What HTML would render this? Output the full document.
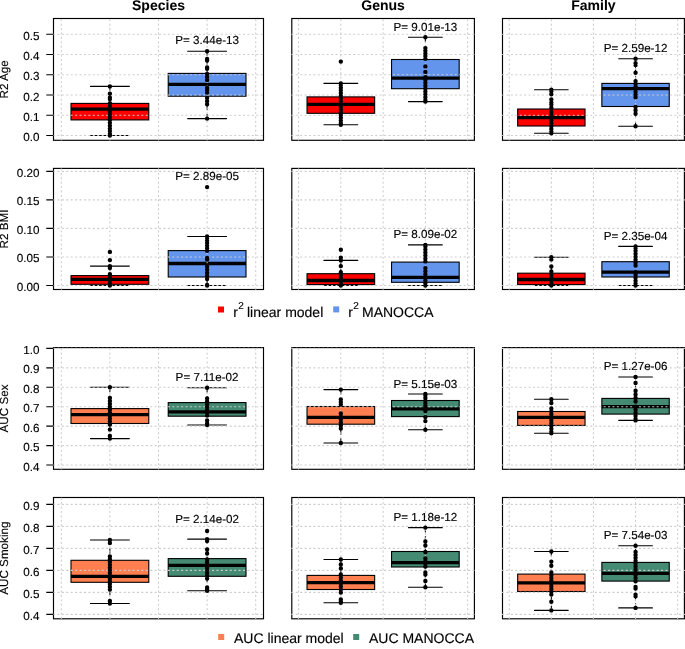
<!DOCTYPE html>
<html><head><meta charset="utf-8"><title>MANOCCA boxplots</title>
<style>
html,body{margin:0;padding:0;background:#fff;}
body{width:685px;height:649px;overflow:hidden;}
svg{display:block;font-family:"Liberation Sans", sans-serif;will-change:transform;text-rendering:geometricPrecision;}
text{fill:#000;stroke:#000;stroke-width:0.15px;}
</style></head>
<body>
<svg width="685" height="649" viewBox="0 0 685 649">
<path d="M109.89 86.4V103.4M109.89 135.5V119.9" stroke="#000" stroke-width="1.05" stroke-dasharray="4.417 4.417" stroke-linecap="round" fill="none"/>
<path d="M90.44 86.4H129.33M90.44 135.5H129.33" stroke="#000" stroke-width="1.1" stroke-linecap="round" fill="none"/>
<rect x="71" y="103.4" width="77.78" height="16.5" fill="#FF0000" stroke="#000" stroke-width="1.1"/>
<path d="M71 109.1H148.78" stroke="#000" stroke-width="3.3" fill="none"/>
<path d="M207.11 51.2V73.4M207.11 118.6V96.2" stroke="#000" stroke-width="1.05" stroke-dasharray="4.417 4.417" stroke-linecap="round" fill="none"/>
<path d="M187.67 51.2H226.56M187.67 118.6H226.56" stroke="#000" stroke-width="1.1" stroke-linecap="round" fill="none"/>
<rect x="168.22" y="73.4" width="77.78" height="22.8" fill="#6495ED" stroke="#000" stroke-width="1.1"/>
<path d="M168.22 84.3H246" stroke="#000" stroke-width="3.3" fill="none"/>
<rect x="53.5" y="18.5" width="210" height="121.8" fill="none" stroke="#000" stroke-width="1.15"/>
<path d="M61.28 140.3V18.5M109.89 140.3V18.5M158.5 140.3V18.5M207.11 140.3V18.5M255.72 140.3V18.5" stroke="#CCCCCC" stroke-width="1.1" stroke-dasharray="1.104 3.313" stroke-dashoffset="-0.3" stroke-linecap="round" fill="none"/>
<path d="M53.5 135.55H263.5M53.5 115.3H263.5M53.5 95.05H263.5M53.5 74.8H263.5M53.5 54.55H263.5M53.5 34.3H263.5" stroke="#CCCCCC" stroke-width="1.1" stroke-dasharray="1.104 3.313" stroke-linecap="round" fill="none"/>
<path d="M107.69 86.4a2.2 2.2 0 1 0 4.4 0a2.2 2.2 0 1 0 -4.4 0zM107.69 135.5a2.2 2.2 0 1 0 4.4 0a2.2 2.2 0 1 0 -4.4 0zM107.69 86.4a2.2 2.2 0 1 0 4.4 0a2.2 2.2 0 1 0 -4.4 0zM107.69 93.6a2.2 2.2 0 1 0 4.4 0a2.2 2.2 0 1 0 -4.4 0zM107.69 97.8a2.2 2.2 0 1 0 4.4 0a2.2 2.2 0 1 0 -4.4 0zM107.69 99a2.2 2.2 0 1 0 4.4 0a2.2 2.2 0 1 0 -4.4 0zM107.69 103.3a2.2 2.2 0 1 0 4.4 0a2.2 2.2 0 1 0 -4.4 0zM107.69 106.09a2.2 2.2 0 1 0 4.4 0a2.2 2.2 0 1 0 -4.4 0zM107.69 108.88a2.2 2.2 0 1 0 4.4 0a2.2 2.2 0 1 0 -4.4 0zM107.69 111.67a2.2 2.2 0 1 0 4.4 0a2.2 2.2 0 1 0 -4.4 0zM107.69 114.46a2.2 2.2 0 1 0 4.4 0a2.2 2.2 0 1 0 -4.4 0zM107.69 117.25a2.2 2.2 0 1 0 4.4 0a2.2 2.2 0 1 0 -4.4 0zM107.69 120.05a2.2 2.2 0 1 0 4.4 0a2.2 2.2 0 1 0 -4.4 0zM107.69 122.84a2.2 2.2 0 1 0 4.4 0a2.2 2.2 0 1 0 -4.4 0zM107.69 125.63a2.2 2.2 0 1 0 4.4 0a2.2 2.2 0 1 0 -4.4 0zM107.69 128.42a2.2 2.2 0 1 0 4.4 0a2.2 2.2 0 1 0 -4.4 0zM107.69 131.21a2.2 2.2 0 1 0 4.4 0a2.2 2.2 0 1 0 -4.4 0zM107.69 134a2.2 2.2 0 1 0 4.4 0a2.2 2.2 0 1 0 -4.4 0z" fill="#000"/>
<path d="M204.91 51.2a2.2 2.2 0 1 0 4.4 0a2.2 2.2 0 1 0 -4.4 0zM204.91 118.6a2.2 2.2 0 1 0 4.4 0a2.2 2.2 0 1 0 -4.4 0zM204.91 51.2a2.2 2.2 0 1 0 4.4 0a2.2 2.2 0 1 0 -4.4 0zM204.91 59a2.2 2.2 0 1 0 4.4 0a2.2 2.2 0 1 0 -4.4 0zM204.91 60.5a2.2 2.2 0 1 0 4.4 0a2.2 2.2 0 1 0 -4.4 0zM204.91 67.5a2.2 2.2 0 1 0 4.4 0a2.2 2.2 0 1 0 -4.4 0zM204.91 68.8a2.2 2.2 0 1 0 4.4 0a2.2 2.2 0 1 0 -4.4 0zM204.91 74a2.2 2.2 0 1 0 4.4 0a2.2 2.2 0 1 0 -4.4 0zM204.91 77a2.2 2.2 0 1 0 4.4 0a2.2 2.2 0 1 0 -4.4 0zM204.91 80a2.2 2.2 0 1 0 4.4 0a2.2 2.2 0 1 0 -4.4 0zM204.91 88a2.2 2.2 0 1 0 4.4 0a2.2 2.2 0 1 0 -4.4 0zM204.91 90.25a2.2 2.2 0 1 0 4.4 0a2.2 2.2 0 1 0 -4.4 0zM204.91 92.5a2.2 2.2 0 1 0 4.4 0a2.2 2.2 0 1 0 -4.4 0zM204.91 98a2.2 2.2 0 1 0 4.4 0a2.2 2.2 0 1 0 -4.4 0zM204.91 101.15a2.2 2.2 0 1 0 4.4 0a2.2 2.2 0 1 0 -4.4 0zM204.91 104.3a2.2 2.2 0 1 0 4.4 0a2.2 2.2 0 1 0 -4.4 0zM204.91 118.6a2.2 2.2 0 1 0 4.4 0a2.2 2.2 0 1 0 -4.4 0z" fill="#000"/>
<text x="207.11" y="44.1" text-anchor="middle" font-size="11.67">P= 3.44e-13</text>
<path d="M340.83 83.4V96.9M340.83 124.7V113.3" stroke="#000" stroke-width="1.05" stroke-dasharray="4.417 4.417" stroke-linecap="round" fill="none"/>
<path d="M323.92 83.4H357.74M323.92 124.7H357.74" stroke="#000" stroke-width="1.1" stroke-linecap="round" fill="none"/>
<rect x="307.02" y="96.9" width="67.63" height="16.4" fill="#FF0000" stroke="#000" stroke-width="1.1"/>
<path d="M307.02 104.4H374.65" stroke="#000" stroke-width="3.3" fill="none"/>
<path d="M425.37 37.3V59.5M425.37 101.6V88.7" stroke="#000" stroke-width="1.05" stroke-dasharray="4.417 4.417" stroke-linecap="round" fill="none"/>
<path d="M408.46 37.3H442.28M408.46 101.6H442.28" stroke="#000" stroke-width="1.1" stroke-linecap="round" fill="none"/>
<rect x="391.55" y="59.5" width="67.63" height="29.2" fill="#6495ED" stroke="#000" stroke-width="1.1"/>
<path d="M391.55 78.2H459.18" stroke="#000" stroke-width="3.3" fill="none"/>
<rect x="291.8" y="18.5" width="182.6" height="121.8" fill="none" stroke="#000" stroke-width="1.15"/>
<path d="M298.56 140.3V18.5M340.83 140.3V18.5M383.1 140.3V18.5M425.37 140.3V18.5M467.64 140.3V18.5" stroke="#CCCCCC" stroke-width="1.1" stroke-dasharray="1.104 3.313" stroke-dashoffset="-0.3" stroke-linecap="round" fill="none"/>
<path d="M291.8 135.55H474.4M291.8 115.3H474.4M291.8 95.05H474.4M291.8 74.8H474.4M291.8 54.55H474.4M291.8 34.3H474.4" stroke="#CCCCCC" stroke-width="1.1" stroke-dasharray="1.104 3.313" stroke-linecap="round" fill="none"/>
<path d="M338.63 83.4a2.2 2.2 0 1 0 4.4 0a2.2 2.2 0 1 0 -4.4 0zM338.63 124.7a2.2 2.2 0 1 0 4.4 0a2.2 2.2 0 1 0 -4.4 0zM338.63 61.6a2.2 2.2 0 1 0 4.4 0a2.2 2.2 0 1 0 -4.4 0zM338.63 84.9a2.2 2.2 0 1 0 4.4 0a2.2 2.2 0 1 0 -4.4 0zM338.63 87.64a2.2 2.2 0 1 0 4.4 0a2.2 2.2 0 1 0 -4.4 0zM338.63 90.37a2.2 2.2 0 1 0 4.4 0a2.2 2.2 0 1 0 -4.4 0zM338.63 93.11a2.2 2.2 0 1 0 4.4 0a2.2 2.2 0 1 0 -4.4 0zM338.63 95.84a2.2 2.2 0 1 0 4.4 0a2.2 2.2 0 1 0 -4.4 0zM338.63 98.58a2.2 2.2 0 1 0 4.4 0a2.2 2.2 0 1 0 -4.4 0zM338.63 101.31a2.2 2.2 0 1 0 4.4 0a2.2 2.2 0 1 0 -4.4 0zM338.63 104.05a2.2 2.2 0 1 0 4.4 0a2.2 2.2 0 1 0 -4.4 0zM338.63 106.79a2.2 2.2 0 1 0 4.4 0a2.2 2.2 0 1 0 -4.4 0zM338.63 109.52a2.2 2.2 0 1 0 4.4 0a2.2 2.2 0 1 0 -4.4 0zM338.63 112.26a2.2 2.2 0 1 0 4.4 0a2.2 2.2 0 1 0 -4.4 0zM338.63 114.99a2.2 2.2 0 1 0 4.4 0a2.2 2.2 0 1 0 -4.4 0zM338.63 117.73a2.2 2.2 0 1 0 4.4 0a2.2 2.2 0 1 0 -4.4 0zM338.63 120.46a2.2 2.2 0 1 0 4.4 0a2.2 2.2 0 1 0 -4.4 0zM338.63 123.2a2.2 2.2 0 1 0 4.4 0a2.2 2.2 0 1 0 -4.4 0z" fill="#000"/>
<path d="M423.17 37.3a2.2 2.2 0 1 0 4.4 0a2.2 2.2 0 1 0 -4.4 0zM423.17 101.6a2.2 2.2 0 1 0 4.4 0a2.2 2.2 0 1 0 -4.4 0zM423.17 37.3a2.2 2.2 0 1 0 4.4 0a2.2 2.2 0 1 0 -4.4 0zM423.17 48.1a2.2 2.2 0 1 0 4.4 0a2.2 2.2 0 1 0 -4.4 0zM423.17 50.75a2.2 2.2 0 1 0 4.4 0a2.2 2.2 0 1 0 -4.4 0zM423.17 53.4a2.2 2.2 0 1 0 4.4 0a2.2 2.2 0 1 0 -4.4 0zM423.17 56.05a2.2 2.2 0 1 0 4.4 0a2.2 2.2 0 1 0 -4.4 0zM423.17 58.7a2.2 2.2 0 1 0 4.4 0a2.2 2.2 0 1 0 -4.4 0zM423.17 66.4a2.2 2.2 0 1 0 4.4 0a2.2 2.2 0 1 0 -4.4 0zM423.17 71.9a2.2 2.2 0 1 0 4.4 0a2.2 2.2 0 1 0 -4.4 0zM423.17 77.1a2.2 2.2 0 1 0 4.4 0a2.2 2.2 0 1 0 -4.4 0zM423.17 79.97a2.2 2.2 0 1 0 4.4 0a2.2 2.2 0 1 0 -4.4 0zM423.17 82.85a2.2 2.2 0 1 0 4.4 0a2.2 2.2 0 1 0 -4.4 0zM423.17 85.72a2.2 2.2 0 1 0 4.4 0a2.2 2.2 0 1 0 -4.4 0zM423.17 88.6a2.2 2.2 0 1 0 4.4 0a2.2 2.2 0 1 0 -4.4 0zM423.17 91.47a2.2 2.2 0 1 0 4.4 0a2.2 2.2 0 1 0 -4.4 0zM423.17 94.35a2.2 2.2 0 1 0 4.4 0a2.2 2.2 0 1 0 -4.4 0zM423.17 97.22a2.2 2.2 0 1 0 4.4 0a2.2 2.2 0 1 0 -4.4 0zM423.17 100.1a2.2 2.2 0 1 0 4.4 0a2.2 2.2 0 1 0 -4.4 0z" fill="#000"/>
<text x="425.37" y="30.8" text-anchor="middle" font-size="11.67">P= 9.01e-13</text>
<path d="M551.34 89.7V109M551.34 133.3V126" stroke="#000" stroke-width="1.05" stroke-dasharray="4.417 4.417" stroke-linecap="round" fill="none"/>
<path d="M534.5 89.7H568.19M534.5 133.3H568.19" stroke="#000" stroke-width="1.1" stroke-linecap="round" fill="none"/>
<rect x="517.66" y="109" width="67.37" height="17" fill="#FF0000" stroke="#000" stroke-width="1.1"/>
<path d="M517.66 117.6H585.03" stroke="#000" stroke-width="3.3" fill="none"/>
<path d="M635.56 58.7V83.4M635.56 126.2V106.5" stroke="#000" stroke-width="1.05" stroke-dasharray="4.417 4.417" stroke-linecap="round" fill="none"/>
<path d="M618.71 58.7H652.4M618.71 126.2H652.4" stroke="#000" stroke-width="1.1" stroke-linecap="round" fill="none"/>
<rect x="601.87" y="83.4" width="67.37" height="23.1" fill="#6495ED" stroke="#000" stroke-width="1.1"/>
<path d="M601.87 88.7H669.24" stroke="#000" stroke-width="3.3" fill="none"/>
<rect x="502.5" y="18.5" width="181.9" height="121.8" fill="none" stroke="#000" stroke-width="1.15"/>
<path d="M509.24 140.3V18.5M551.34 140.3V18.5M593.45 140.3V18.5M635.56 140.3V18.5M677.66 140.3V18.5" stroke="#CCCCCC" stroke-width="1.1" stroke-dasharray="1.104 3.313" stroke-dashoffset="-0.3" stroke-linecap="round" fill="none"/>
<path d="M502.5 135.55H684.4M502.5 115.3H684.4M502.5 95.05H684.4M502.5 74.8H684.4M502.5 54.55H684.4M502.5 34.3H684.4" stroke="#CCCCCC" stroke-width="1.1" stroke-dasharray="1.104 3.313" stroke-linecap="round" fill="none"/>
<path d="M549.14 89.7a2.2 2.2 0 1 0 4.4 0a2.2 2.2 0 1 0 -4.4 0zM549.14 133.3a2.2 2.2 0 1 0 4.4 0a2.2 2.2 0 1 0 -4.4 0zM549.14 91.2a2.2 2.2 0 1 0 4.4 0a2.2 2.2 0 1 0 -4.4 0zM549.14 94.2a2.2 2.2 0 1 0 4.4 0a2.2 2.2 0 1 0 -4.4 0zM549.14 99.4a2.2 2.2 0 1 0 4.4 0a2.2 2.2 0 1 0 -4.4 0zM549.14 102.7a2.2 2.2 0 1 0 4.4 0a2.2 2.2 0 1 0 -4.4 0zM549.14 104.5a2.2 2.2 0 1 0 4.4 0a2.2 2.2 0 1 0 -4.4 0zM549.14 107.8a2.2 2.2 0 1 0 4.4 0a2.2 2.2 0 1 0 -4.4 0zM549.14 112a2.2 2.2 0 1 0 4.4 0a2.2 2.2 0 1 0 -4.4 0zM549.14 114.83a2.2 2.2 0 1 0 4.4 0a2.2 2.2 0 1 0 -4.4 0zM549.14 117.66a2.2 2.2 0 1 0 4.4 0a2.2 2.2 0 1 0 -4.4 0zM549.14 120.49a2.2 2.2 0 1 0 4.4 0a2.2 2.2 0 1 0 -4.4 0zM549.14 123.31a2.2 2.2 0 1 0 4.4 0a2.2 2.2 0 1 0 -4.4 0zM549.14 126.14a2.2 2.2 0 1 0 4.4 0a2.2 2.2 0 1 0 -4.4 0zM549.14 128.97a2.2 2.2 0 1 0 4.4 0a2.2 2.2 0 1 0 -4.4 0zM549.14 131.8a2.2 2.2 0 1 0 4.4 0a2.2 2.2 0 1 0 -4.4 0z" fill="#000"/>
<path d="M633.36 58.7a2.2 2.2 0 1 0 4.4 0a2.2 2.2 0 1 0 -4.4 0zM633.36 126.2a2.2 2.2 0 1 0 4.4 0a2.2 2.2 0 1 0 -4.4 0zM633.36 58.7a2.2 2.2 0 1 0 4.4 0a2.2 2.2 0 1 0 -4.4 0zM633.36 63.2a2.2 2.2 0 1 0 4.4 0a2.2 2.2 0 1 0 -4.4 0zM633.36 65.1a2.2 2.2 0 1 0 4.4 0a2.2 2.2 0 1 0 -4.4 0zM633.36 72.8a2.2 2.2 0 1 0 4.4 0a2.2 2.2 0 1 0 -4.4 0zM633.36 81.1a2.2 2.2 0 1 0 4.4 0a2.2 2.2 0 1 0 -4.4 0zM633.36 83.78a2.2 2.2 0 1 0 4.4 0a2.2 2.2 0 1 0 -4.4 0zM633.36 86.47a2.2 2.2 0 1 0 4.4 0a2.2 2.2 0 1 0 -4.4 0zM633.36 89.15a2.2 2.2 0 1 0 4.4 0a2.2 2.2 0 1 0 -4.4 0zM633.36 91.83a2.2 2.2 0 1 0 4.4 0a2.2 2.2 0 1 0 -4.4 0zM633.36 94.52a2.2 2.2 0 1 0 4.4 0a2.2 2.2 0 1 0 -4.4 0zM633.36 97.2a2.2 2.2 0 1 0 4.4 0a2.2 2.2 0 1 0 -4.4 0zM633.36 107a2.2 2.2 0 1 0 4.4 0a2.2 2.2 0 1 0 -4.4 0zM633.36 110.35a2.2 2.2 0 1 0 4.4 0a2.2 2.2 0 1 0 -4.4 0zM633.36 113.7a2.2 2.2 0 1 0 4.4 0a2.2 2.2 0 1 0 -4.4 0zM633.36 126.2a2.2 2.2 0 1 0 4.4 0a2.2 2.2 0 1 0 -4.4 0z" fill="#000"/>
<text x="635.56" y="52" text-anchor="middle" font-size="11.67">P= 2.59e-12</text>
<text x="39.4" y="141.05" text-anchor="end" font-size="11.67">0.0</text>
<text x="39.4" y="120.8" text-anchor="end" font-size="11.67">0.1</text>
<text x="39.4" y="100.55" text-anchor="end" font-size="11.67">0.2</text>
<text x="39.4" y="80.3" text-anchor="end" font-size="11.67">0.3</text>
<text x="39.4" y="60.05" text-anchor="end" font-size="11.67">0.4</text>
<text x="39.4" y="39.8" text-anchor="end" font-size="11.67">0.5</text>
<path d="M46.3 135.55H53.5M46.3 115.3H53.5M46.3 95.05H53.5M46.3 74.8H53.5M46.3 54.55H53.5M46.3 34.3H53.5" stroke="#000" stroke-width="1.1" fill="none"/>
<text transform="translate(8.3 79.4) rotate(-90)" text-anchor="middle" font-size="11.67">R2 Age</text>
<path d="M109.89 266.1V275.6M109.89 285.45V284.3" stroke="#000" stroke-width="1.05" stroke-dasharray="4.417 4.417" stroke-linecap="round" fill="none"/>
<path d="M90.44 266.1H129.33M90.44 285.45H129.33" stroke="#000" stroke-width="1.1" stroke-linecap="round" fill="none"/>
<rect x="71" y="275.6" width="77.78" height="8.7" fill="#FF0000" stroke="#000" stroke-width="1.1"/>
<path d="M71 279.3H148.78" stroke="#000" stroke-width="3.3" fill="none"/>
<path d="M207.11 236.5V250.6M207.11 285.45V277" stroke="#000" stroke-width="1.05" stroke-dasharray="4.417 4.417" stroke-linecap="round" fill="none"/>
<path d="M187.67 236.5H226.56M187.67 285.45H226.56" stroke="#000" stroke-width="1.1" stroke-linecap="round" fill="none"/>
<rect x="168.22" y="250.6" width="77.78" height="26.4" fill="#6495ED" stroke="#000" stroke-width="1.1"/>
<path d="M168.22 263.5H246" stroke="#000" stroke-width="3.3" fill="none"/>
<rect x="53.5" y="168.4" width="210" height="121.1" fill="none" stroke="#000" stroke-width="1.15"/>
<path d="M61.28 289.5V168.4M109.89 289.5V168.4M158.5 289.5V168.4M207.11 289.5V168.4M255.72 289.5V168.4" stroke="#CCCCCC" stroke-width="1.1" stroke-dasharray="1.104 3.313" stroke-dashoffset="-0.3" stroke-linecap="round" fill="none"/>
<path d="M53.5 285.45H263.5M53.5 256.94H263.5M53.5 228.42H263.5M53.5 199.91H263.5M53.5 171.4H263.5" stroke="#CCCCCC" stroke-width="1.1" stroke-dasharray="1.104 3.313" stroke-linecap="round" fill="none"/>
<path d="M107.69 266.1a2.2 2.2 0 1 0 4.4 0a2.2 2.2 0 1 0 -4.4 0zM107.69 285.45a2.2 2.2 0 1 0 4.4 0a2.2 2.2 0 1 0 -4.4 0zM107.69 251.9a2.2 2.2 0 1 0 4.4 0a2.2 2.2 0 1 0 -4.4 0zM107.69 260.1a2.2 2.2 0 1 0 4.4 0a2.2 2.2 0 1 0 -4.4 0zM107.69 266.2a2.2 2.2 0 1 0 4.4 0a2.2 2.2 0 1 0 -4.4 0zM107.69 267.9a2.2 2.2 0 1 0 4.4 0a2.2 2.2 0 1 0 -4.4 0zM107.69 274.1a2.2 2.2 0 1 0 4.4 0a2.2 2.2 0 1 0 -4.4 0zM107.69 277.23a2.2 2.2 0 1 0 4.4 0a2.2 2.2 0 1 0 -4.4 0zM107.69 280.37a2.2 2.2 0 1 0 4.4 0a2.2 2.2 0 1 0 -4.4 0zM107.69 283.5a2.2 2.2 0 1 0 4.4 0a2.2 2.2 0 1 0 -4.4 0z" fill="#000"/>
<path d="M204.91 236.5a2.2 2.2 0 1 0 4.4 0a2.2 2.2 0 1 0 -4.4 0zM204.91 285.45a2.2 2.2 0 1 0 4.4 0a2.2 2.2 0 1 0 -4.4 0zM204.91 187.1a2.2 2.2 0 1 0 4.4 0a2.2 2.2 0 1 0 -4.4 0zM204.91 238a2.2 2.2 0 1 0 4.4 0a2.2 2.2 0 1 0 -4.4 0zM204.91 240.54a2.2 2.2 0 1 0 4.4 0a2.2 2.2 0 1 0 -4.4 0zM204.91 243.08a2.2 2.2 0 1 0 4.4 0a2.2 2.2 0 1 0 -4.4 0zM204.91 245.62a2.2 2.2 0 1 0 4.4 0a2.2 2.2 0 1 0 -4.4 0zM204.91 248.16a2.2 2.2 0 1 0 4.4 0a2.2 2.2 0 1 0 -4.4 0zM204.91 250.7a2.2 2.2 0 1 0 4.4 0a2.2 2.2 0 1 0 -4.4 0zM204.91 257.9a2.2 2.2 0 1 0 4.4 0a2.2 2.2 0 1 0 -4.4 0zM204.91 259.5a2.2 2.2 0 1 0 4.4 0a2.2 2.2 0 1 0 -4.4 0zM204.91 266.5a2.2 2.2 0 1 0 4.4 0a2.2 2.2 0 1 0 -4.4 0zM204.91 269.62a2.2 2.2 0 1 0 4.4 0a2.2 2.2 0 1 0 -4.4 0zM204.91 272.75a2.2 2.2 0 1 0 4.4 0a2.2 2.2 0 1 0 -4.4 0zM204.91 275.88a2.2 2.2 0 1 0 4.4 0a2.2 2.2 0 1 0 -4.4 0zM204.91 279a2.2 2.2 0 1 0 4.4 0a2.2 2.2 0 1 0 -4.4 0zM204.91 285a2.2 2.2 0 1 0 4.4 0a2.2 2.2 0 1 0 -4.4 0z" fill="#000"/>
<text x="207.11" y="180.4" text-anchor="middle" font-size="11.67">P= 2.89e-05</text>
<path d="M340.83 260.4V273.7M340.83 285.45V284.6" stroke="#000" stroke-width="1.05" stroke-dasharray="4.417 4.417" stroke-linecap="round" fill="none"/>
<path d="M323.92 260.4H357.74M323.92 285.45H357.74" stroke="#000" stroke-width="1.1" stroke-linecap="round" fill="none"/>
<rect x="307.02" y="273.7" width="67.63" height="10.9" fill="#FF0000" stroke="#000" stroke-width="1.1"/>
<path d="M307.02 280.5H374.65" stroke="#000" stroke-width="3.3" fill="none"/>
<path d="M425.37 244.9V262.1M425.37 285.45V282.3" stroke="#000" stroke-width="1.05" stroke-dasharray="4.417 4.417" stroke-linecap="round" fill="none"/>
<path d="M408.46 244.9H442.28M408.46 285.45H442.28" stroke="#000" stroke-width="1.1" stroke-linecap="round" fill="none"/>
<rect x="391.55" y="262.1" width="67.63" height="20.2" fill="#6495ED" stroke="#000" stroke-width="1.1"/>
<path d="M391.55 277.4H459.18" stroke="#000" stroke-width="3.3" fill="none"/>
<rect x="291.8" y="168.4" width="182.6" height="121.1" fill="none" stroke="#000" stroke-width="1.15"/>
<path d="M298.56 289.5V168.4M340.83 289.5V168.4M383.1 289.5V168.4M425.37 289.5V168.4M467.64 289.5V168.4" stroke="#CCCCCC" stroke-width="1.1" stroke-dasharray="1.104 3.313" stroke-dashoffset="-0.3" stroke-linecap="round" fill="none"/>
<path d="M291.8 285.45H474.4M291.8 256.94H474.4M291.8 228.42H474.4M291.8 199.91H474.4M291.8 171.4H474.4" stroke="#CCCCCC" stroke-width="1.1" stroke-dasharray="1.104 3.313" stroke-linecap="round" fill="none"/>
<path d="M338.63 260.4a2.2 2.2 0 1 0 4.4 0a2.2 2.2 0 1 0 -4.4 0zM338.63 285.45a2.2 2.2 0 1 0 4.4 0a2.2 2.2 0 1 0 -4.4 0zM338.63 249.7a2.2 2.2 0 1 0 4.4 0a2.2 2.2 0 1 0 -4.4 0zM338.63 257.6a2.2 2.2 0 1 0 4.4 0a2.2 2.2 0 1 0 -4.4 0zM338.63 260.2a2.2 2.2 0 1 0 4.4 0a2.2 2.2 0 1 0 -4.4 0zM338.63 266.1a2.2 2.2 0 1 0 4.4 0a2.2 2.2 0 1 0 -4.4 0zM338.63 272.2a2.2 2.2 0 1 0 4.4 0a2.2 2.2 0 1 0 -4.4 0zM338.63 275.02a2.2 2.2 0 1 0 4.4 0a2.2 2.2 0 1 0 -4.4 0zM338.63 277.85a2.2 2.2 0 1 0 4.4 0a2.2 2.2 0 1 0 -4.4 0zM338.63 280.68a2.2 2.2 0 1 0 4.4 0a2.2 2.2 0 1 0 -4.4 0zM338.63 283.5a2.2 2.2 0 1 0 4.4 0a2.2 2.2 0 1 0 -4.4 0z" fill="#000"/>
<path d="M423.17 244.9a2.2 2.2 0 1 0 4.4 0a2.2 2.2 0 1 0 -4.4 0zM423.17 285.45a2.2 2.2 0 1 0 4.4 0a2.2 2.2 0 1 0 -4.4 0zM423.17 246.4a2.2 2.2 0 1 0 4.4 0a2.2 2.2 0 1 0 -4.4 0zM423.17 249.4a2.2 2.2 0 1 0 4.4 0a2.2 2.2 0 1 0 -4.4 0zM423.17 252.4a2.2 2.2 0 1 0 4.4 0a2.2 2.2 0 1 0 -4.4 0zM423.17 255.4a2.2 2.2 0 1 0 4.4 0a2.2 2.2 0 1 0 -4.4 0zM423.17 258.4a2.2 2.2 0 1 0 4.4 0a2.2 2.2 0 1 0 -4.4 0zM423.17 261.4a2.2 2.2 0 1 0 4.4 0a2.2 2.2 0 1 0 -4.4 0zM423.17 268.1a2.2 2.2 0 1 0 4.4 0a2.2 2.2 0 1 0 -4.4 0zM423.17 271.18a2.2 2.2 0 1 0 4.4 0a2.2 2.2 0 1 0 -4.4 0zM423.17 274.26a2.2 2.2 0 1 0 4.4 0a2.2 2.2 0 1 0 -4.4 0zM423.17 277.34a2.2 2.2 0 1 0 4.4 0a2.2 2.2 0 1 0 -4.4 0zM423.17 280.42a2.2 2.2 0 1 0 4.4 0a2.2 2.2 0 1 0 -4.4 0zM423.17 283.5a2.2 2.2 0 1 0 4.4 0a2.2 2.2 0 1 0 -4.4 0z" fill="#000"/>
<text x="425.37" y="237.8" text-anchor="middle" font-size="11.67">P= 8.09e-02</text>
<path d="M551.34 257.3V273.2M551.34 285.45V284.6" stroke="#000" stroke-width="1.05" stroke-dasharray="4.417 4.417" stroke-linecap="round" fill="none"/>
<path d="M534.5 257.3H568.19M534.5 285.45H568.19" stroke="#000" stroke-width="1.1" stroke-linecap="round" fill="none"/>
<rect x="517.66" y="273.2" width="67.37" height="11.4" fill="#FF0000" stroke="#000" stroke-width="1.1"/>
<path d="M517.66 279.5H585.03" stroke="#000" stroke-width="3.3" fill="none"/>
<path d="M635.56 246.4V261.7M635.56 285.45V277" stroke="#000" stroke-width="1.05" stroke-dasharray="4.417 4.417" stroke-linecap="round" fill="none"/>
<path d="M618.71 246.4H652.4M618.71 285.45H652.4" stroke="#000" stroke-width="1.1" stroke-linecap="round" fill="none"/>
<rect x="601.87" y="261.7" width="67.37" height="15.3" fill="#6495ED" stroke="#000" stroke-width="1.1"/>
<path d="M601.87 272.2H669.24" stroke="#000" stroke-width="3.3" fill="none"/>
<rect x="502.5" y="168.4" width="181.9" height="121.1" fill="none" stroke="#000" stroke-width="1.15"/>
<path d="M509.24 289.5V168.4M551.34 289.5V168.4M593.45 289.5V168.4M635.56 289.5V168.4M677.66 289.5V168.4" stroke="#CCCCCC" stroke-width="1.1" stroke-dasharray="1.104 3.313" stroke-dashoffset="-0.3" stroke-linecap="round" fill="none"/>
<path d="M502.5 285.45H684.4M502.5 256.94H684.4M502.5 228.42H684.4M502.5 199.91H684.4M502.5 171.4H684.4" stroke="#CCCCCC" stroke-width="1.1" stroke-dasharray="1.104 3.313" stroke-linecap="round" fill="none"/>
<path d="M549.14 257.3a2.2 2.2 0 1 0 4.4 0a2.2 2.2 0 1 0 -4.4 0zM549.14 285.45a2.2 2.2 0 1 0 4.4 0a2.2 2.2 0 1 0 -4.4 0zM549.14 257.3a2.2 2.2 0 1 0 4.4 0a2.2 2.2 0 1 0 -4.4 0zM549.14 259.4a2.2 2.2 0 1 0 4.4 0a2.2 2.2 0 1 0 -4.4 0zM549.14 266.5a2.2 2.2 0 1 0 4.4 0a2.2 2.2 0 1 0 -4.4 0zM549.14 271.5a2.2 2.2 0 1 0 4.4 0a2.2 2.2 0 1 0 -4.4 0zM549.14 274.5a2.2 2.2 0 1 0 4.4 0a2.2 2.2 0 1 0 -4.4 0zM549.14 277.5a2.2 2.2 0 1 0 4.4 0a2.2 2.2 0 1 0 -4.4 0zM549.14 280.5a2.2 2.2 0 1 0 4.4 0a2.2 2.2 0 1 0 -4.4 0zM549.14 283.5a2.2 2.2 0 1 0 4.4 0a2.2 2.2 0 1 0 -4.4 0z" fill="#000"/>
<path d="M633.36 246.4a2.2 2.2 0 1 0 4.4 0a2.2 2.2 0 1 0 -4.4 0zM633.36 285.45a2.2 2.2 0 1 0 4.4 0a2.2 2.2 0 1 0 -4.4 0zM633.36 247.9a2.2 2.2 0 1 0 4.4 0a2.2 2.2 0 1 0 -4.4 0zM633.36 250.83a2.2 2.2 0 1 0 4.4 0a2.2 2.2 0 1 0 -4.4 0zM633.36 253.77a2.2 2.2 0 1 0 4.4 0a2.2 2.2 0 1 0 -4.4 0zM633.36 256.7a2.2 2.2 0 1 0 4.4 0a2.2 2.2 0 1 0 -4.4 0zM633.36 259.63a2.2 2.2 0 1 0 4.4 0a2.2 2.2 0 1 0 -4.4 0zM633.36 262.57a2.2 2.2 0 1 0 4.4 0a2.2 2.2 0 1 0 -4.4 0zM633.36 265.5a2.2 2.2 0 1 0 4.4 0a2.2 2.2 0 1 0 -4.4 0zM633.36 272.2a2.2 2.2 0 1 0 4.4 0a2.2 2.2 0 1 0 -4.4 0zM633.36 275.02a2.2 2.2 0 1 0 4.4 0a2.2 2.2 0 1 0 -4.4 0zM633.36 277.85a2.2 2.2 0 1 0 4.4 0a2.2 2.2 0 1 0 -4.4 0zM633.36 280.68a2.2 2.2 0 1 0 4.4 0a2.2 2.2 0 1 0 -4.4 0zM633.36 283.5a2.2 2.2 0 1 0 4.4 0a2.2 2.2 0 1 0 -4.4 0z" fill="#000"/>
<text x="635.56" y="239.7" text-anchor="middle" font-size="11.67">P= 2.35e-04</text>
<text x="39.4" y="290.95" text-anchor="end" font-size="11.67">0.00</text>
<text x="39.4" y="262.44" text-anchor="end" font-size="11.67">0.05</text>
<text x="39.4" y="233.92" text-anchor="end" font-size="11.67">0.10</text>
<text x="39.4" y="205.41" text-anchor="end" font-size="11.67">0.15</text>
<text x="39.4" y="176.9" text-anchor="end" font-size="11.67">0.20</text>
<path d="M46.3 285.45H53.5M46.3 256.94H53.5M46.3 228.42H53.5M46.3 199.91H53.5M46.3 171.4H53.5" stroke="#000" stroke-width="1.1" fill="none"/>
<text transform="translate(8.3 228.95) rotate(-90)" text-anchor="middle" font-size="11.67">R2 BMI</text>
<path d="M109.89 387.3V408.6M109.89 438.6V423.5" stroke="#000" stroke-width="1.05" stroke-dasharray="4.417 4.417" stroke-linecap="round" fill="none"/>
<path d="M90.44 387.3H129.33M90.44 438.6H129.33" stroke="#000" stroke-width="1.1" stroke-linecap="round" fill="none"/>
<rect x="71" y="408.6" width="77.78" height="14.9" fill="#FF7F50" stroke="#000" stroke-width="1.1"/>
<path d="M71 414.7H148.78" stroke="#000" stroke-width="3.3" fill="none"/>
<path d="M207.11 387.7V402.6M207.11 425V416.2" stroke="#000" stroke-width="1.05" stroke-dasharray="4.417 4.417" stroke-linecap="round" fill="none"/>
<path d="M187.67 387.7H226.56M187.67 425H226.56" stroke="#000" stroke-width="1.1" stroke-linecap="round" fill="none"/>
<rect x="168.22" y="402.6" width="77.78" height="13.6" fill="#458B74" stroke="#000" stroke-width="1.1"/>
<path d="M168.22 411.8H246" stroke="#000" stroke-width="3.3" fill="none"/>
<rect x="53.5" y="347.6" width="210" height="121.7" fill="none" stroke="#000" stroke-width="1.15"/>
<path d="M61.28 469.3V347.6M109.89 469.3V347.6M158.5 469.3V347.6M207.11 469.3V347.6M255.72 469.3V347.6" stroke="#CCCCCC" stroke-width="1.1" stroke-dasharray="1.104 3.313" stroke-dashoffset="-0.3" stroke-linecap="round" fill="none"/>
<path d="M53.5 465.04H263.5M53.5 445.6H263.5M53.5 426.16H263.5M53.5 406.72H263.5M53.5 387.28H263.5M53.5 367.84H263.5M53.5 348.4H263.5" stroke="#CCCCCC" stroke-width="1.1" stroke-dasharray="1.104 3.313" stroke-linecap="round" fill="none"/>
<path d="M107.69 387.3a2.2 2.2 0 1 0 4.4 0a2.2 2.2 0 1 0 -4.4 0zM107.69 438.6a2.2 2.2 0 1 0 4.4 0a2.2 2.2 0 1 0 -4.4 0zM107.69 387.3a2.2 2.2 0 1 0 4.4 0a2.2 2.2 0 1 0 -4.4 0zM107.69 398a2.2 2.2 0 1 0 4.4 0a2.2 2.2 0 1 0 -4.4 0zM107.69 400.94a2.2 2.2 0 1 0 4.4 0a2.2 2.2 0 1 0 -4.4 0zM107.69 403.89a2.2 2.2 0 1 0 4.4 0a2.2 2.2 0 1 0 -4.4 0zM107.69 406.83a2.2 2.2 0 1 0 4.4 0a2.2 2.2 0 1 0 -4.4 0zM107.69 409.78a2.2 2.2 0 1 0 4.4 0a2.2 2.2 0 1 0 -4.4 0zM107.69 412.72a2.2 2.2 0 1 0 4.4 0a2.2 2.2 0 1 0 -4.4 0zM107.69 415.67a2.2 2.2 0 1 0 4.4 0a2.2 2.2 0 1 0 -4.4 0zM107.69 418.61a2.2 2.2 0 1 0 4.4 0a2.2 2.2 0 1 0 -4.4 0zM107.69 421.56a2.2 2.2 0 1 0 4.4 0a2.2 2.2 0 1 0 -4.4 0zM107.69 424.5a2.2 2.2 0 1 0 4.4 0a2.2 2.2 0 1 0 -4.4 0zM107.69 429.6a2.2 2.2 0 1 0 4.4 0a2.2 2.2 0 1 0 -4.4 0zM107.69 436a2.2 2.2 0 1 0 4.4 0a2.2 2.2 0 1 0 -4.4 0zM107.69 438.6a2.2 2.2 0 1 0 4.4 0a2.2 2.2 0 1 0 -4.4 0z" fill="#000"/>
<path d="M204.91 387.7a2.2 2.2 0 1 0 4.4 0a2.2 2.2 0 1 0 -4.4 0zM204.91 425a2.2 2.2 0 1 0 4.4 0a2.2 2.2 0 1 0 -4.4 0zM204.91 387.7a2.2 2.2 0 1 0 4.4 0a2.2 2.2 0 1 0 -4.4 0zM204.91 398.5a2.2 2.2 0 1 0 4.4 0a2.2 2.2 0 1 0 -4.4 0zM204.91 401.33a2.2 2.2 0 1 0 4.4 0a2.2 2.2 0 1 0 -4.4 0zM204.91 404.17a2.2 2.2 0 1 0 4.4 0a2.2 2.2 0 1 0 -4.4 0zM204.91 407a2.2 2.2 0 1 0 4.4 0a2.2 2.2 0 1 0 -4.4 0zM204.91 409.83a2.2 2.2 0 1 0 4.4 0a2.2 2.2 0 1 0 -4.4 0zM204.91 412.67a2.2 2.2 0 1 0 4.4 0a2.2 2.2 0 1 0 -4.4 0zM204.91 415.5a2.2 2.2 0 1 0 4.4 0a2.2 2.2 0 1 0 -4.4 0zM204.91 420.5a2.2 2.2 0 1 0 4.4 0a2.2 2.2 0 1 0 -4.4 0zM204.91 423.5a2.2 2.2 0 1 0 4.4 0a2.2 2.2 0 1 0 -4.4 0z" fill="#000"/>
<text x="207.11" y="381" text-anchor="middle" font-size="11.67">P= 7.11e-02</text>
<path d="M340.83 389.6V406.5M340.83 443V424.2" stroke="#000" stroke-width="1.05" stroke-dasharray="4.417 4.417" stroke-linecap="round" fill="none"/>
<path d="M323.92 389.6H357.74M323.92 443H357.74" stroke="#000" stroke-width="1.1" stroke-linecap="round" fill="none"/>
<rect x="307.02" y="406.5" width="67.63" height="17.7" fill="#FF7F50" stroke="#000" stroke-width="1.1"/>
<path d="M307.02 417.4H374.65" stroke="#000" stroke-width="3.3" fill="none"/>
<path d="M425.37 394V400.5M425.37 429.8V416.6" stroke="#000" stroke-width="1.05" stroke-dasharray="4.417 4.417" stroke-linecap="round" fill="none"/>
<path d="M408.46 394H442.28M408.46 429.8H442.28" stroke="#000" stroke-width="1.1" stroke-linecap="round" fill="none"/>
<rect x="391.55" y="400.5" width="67.63" height="16.1" fill="#458B74" stroke="#000" stroke-width="1.1"/>
<path d="M391.55 408.9H459.18" stroke="#000" stroke-width="3.3" fill="none"/>
<rect x="291.8" y="347.6" width="182.6" height="121.7" fill="none" stroke="#000" stroke-width="1.15"/>
<path d="M298.56 469.3V347.6M340.83 469.3V347.6M383.1 469.3V347.6M425.37 469.3V347.6M467.64 469.3V347.6" stroke="#CCCCCC" stroke-width="1.1" stroke-dasharray="1.104 3.313" stroke-dashoffset="-0.3" stroke-linecap="round" fill="none"/>
<path d="M291.8 465.04H474.4M291.8 445.6H474.4M291.8 426.16H474.4M291.8 406.72H474.4M291.8 387.28H474.4M291.8 367.84H474.4M291.8 348.4H474.4" stroke="#CCCCCC" stroke-width="1.1" stroke-dasharray="1.104 3.313" stroke-linecap="round" fill="none"/>
<path d="M338.63 389.6a2.2 2.2 0 1 0 4.4 0a2.2 2.2 0 1 0 -4.4 0zM338.63 443a2.2 2.2 0 1 0 4.4 0a2.2 2.2 0 1 0 -4.4 0zM338.63 389.6a2.2 2.2 0 1 0 4.4 0a2.2 2.2 0 1 0 -4.4 0zM338.63 399.5a2.2 2.2 0 1 0 4.4 0a2.2 2.2 0 1 0 -4.4 0zM338.63 402a2.2 2.2 0 1 0 4.4 0a2.2 2.2 0 1 0 -4.4 0zM338.63 404.5a2.2 2.2 0 1 0 4.4 0a2.2 2.2 0 1 0 -4.4 0zM338.63 413.5a2.2 2.2 0 1 0 4.4 0a2.2 2.2 0 1 0 -4.4 0zM338.63 416.5a2.2 2.2 0 1 0 4.4 0a2.2 2.2 0 1 0 -4.4 0zM338.63 419.5a2.2 2.2 0 1 0 4.4 0a2.2 2.2 0 1 0 -4.4 0zM338.63 422.5a2.2 2.2 0 1 0 4.4 0a2.2 2.2 0 1 0 -4.4 0zM338.63 425.5a2.2 2.2 0 1 0 4.4 0a2.2 2.2 0 1 0 -4.4 0zM338.63 428.5a2.2 2.2 0 1 0 4.4 0a2.2 2.2 0 1 0 -4.4 0zM338.63 443a2.2 2.2 0 1 0 4.4 0a2.2 2.2 0 1 0 -4.4 0z" fill="#000"/>
<path d="M423.17 394a2.2 2.2 0 1 0 4.4 0a2.2 2.2 0 1 0 -4.4 0zM423.17 429.8a2.2 2.2 0 1 0 4.4 0a2.2 2.2 0 1 0 -4.4 0zM423.17 395.5a2.2 2.2 0 1 0 4.4 0a2.2 2.2 0 1 0 -4.4 0zM423.17 398.08a2.2 2.2 0 1 0 4.4 0a2.2 2.2 0 1 0 -4.4 0zM423.17 400.67a2.2 2.2 0 1 0 4.4 0a2.2 2.2 0 1 0 -4.4 0zM423.17 403.25a2.2 2.2 0 1 0 4.4 0a2.2 2.2 0 1 0 -4.4 0zM423.17 405.83a2.2 2.2 0 1 0 4.4 0a2.2 2.2 0 1 0 -4.4 0zM423.17 408.42a2.2 2.2 0 1 0 4.4 0a2.2 2.2 0 1 0 -4.4 0zM423.17 411a2.2 2.2 0 1 0 4.4 0a2.2 2.2 0 1 0 -4.4 0zM423.17 417.1a2.2 2.2 0 1 0 4.4 0a2.2 2.2 0 1 0 -4.4 0zM423.17 421.1a2.2 2.2 0 1 0 4.4 0a2.2 2.2 0 1 0 -4.4 0zM423.17 429.8a2.2 2.2 0 1 0 4.4 0a2.2 2.2 0 1 0 -4.4 0z" fill="#000"/>
<text x="425.37" y="387.5" text-anchor="middle" font-size="11.67">P= 5.15e-03</text>
<path d="M551.34 399.2V411.5M551.34 433.2V425.4" stroke="#000" stroke-width="1.05" stroke-dasharray="4.417 4.417" stroke-linecap="round" fill="none"/>
<path d="M534.5 399.2H568.19M534.5 433.2H568.19" stroke="#000" stroke-width="1.1" stroke-linecap="round" fill="none"/>
<rect x="517.66" y="411.5" width="67.37" height="13.9" fill="#FF7F50" stroke="#000" stroke-width="1.1"/>
<path d="M517.66 417.4H585.03" stroke="#000" stroke-width="3.3" fill="none"/>
<path d="M635.56 377V398.4M635.56 420.4V414.1" stroke="#000" stroke-width="1.05" stroke-dasharray="4.417 4.417" stroke-linecap="round" fill="none"/>
<path d="M618.71 377H652.4M618.71 420.4H652.4" stroke="#000" stroke-width="1.1" stroke-linecap="round" fill="none"/>
<rect x="601.87" y="398.4" width="67.37" height="15.7" fill="#458B74" stroke="#000" stroke-width="1.1"/>
<path d="M601.87 406.7H669.24" stroke="#000" stroke-width="3.3" fill="none"/>
<rect x="502.5" y="347.6" width="181.9" height="121.7" fill="none" stroke="#000" stroke-width="1.15"/>
<path d="M509.24 469.3V347.6M551.34 469.3V347.6M593.45 469.3V347.6M635.56 469.3V347.6M677.66 469.3V347.6" stroke="#CCCCCC" stroke-width="1.1" stroke-dasharray="1.104 3.313" stroke-dashoffset="-0.3" stroke-linecap="round" fill="none"/>
<path d="M502.5 465.04H684.4M502.5 445.6H684.4M502.5 426.16H684.4M502.5 406.72H684.4M502.5 387.28H684.4M502.5 367.84H684.4M502.5 348.4H684.4" stroke="#CCCCCC" stroke-width="1.1" stroke-dasharray="1.104 3.313" stroke-linecap="round" fill="none"/>
<path d="M549.14 399.2a2.2 2.2 0 1 0 4.4 0a2.2 2.2 0 1 0 -4.4 0zM549.14 433.2a2.2 2.2 0 1 0 4.4 0a2.2 2.2 0 1 0 -4.4 0zM549.14 399.2a2.2 2.2 0 1 0 4.4 0a2.2 2.2 0 1 0 -4.4 0zM549.14 403a2.2 2.2 0 1 0 4.4 0a2.2 2.2 0 1 0 -4.4 0zM549.14 408.5a2.2 2.2 0 1 0 4.4 0a2.2 2.2 0 1 0 -4.4 0zM549.14 411.4a2.2 2.2 0 1 0 4.4 0a2.2 2.2 0 1 0 -4.4 0zM549.14 414.3a2.2 2.2 0 1 0 4.4 0a2.2 2.2 0 1 0 -4.4 0zM549.14 417.2a2.2 2.2 0 1 0 4.4 0a2.2 2.2 0 1 0 -4.4 0zM549.14 420.1a2.2 2.2 0 1 0 4.4 0a2.2 2.2 0 1 0 -4.4 0zM549.14 423a2.2 2.2 0 1 0 4.4 0a2.2 2.2 0 1 0 -4.4 0zM549.14 425.9a2.2 2.2 0 1 0 4.4 0a2.2 2.2 0 1 0 -4.4 0zM549.14 428.8a2.2 2.2 0 1 0 4.4 0a2.2 2.2 0 1 0 -4.4 0zM549.14 431.7a2.2 2.2 0 1 0 4.4 0a2.2 2.2 0 1 0 -4.4 0z" fill="#000"/>
<path d="M633.36 377a2.2 2.2 0 1 0 4.4 0a2.2 2.2 0 1 0 -4.4 0zM633.36 420.4a2.2 2.2 0 1 0 4.4 0a2.2 2.2 0 1 0 -4.4 0zM633.36 377a2.2 2.2 0 1 0 4.4 0a2.2 2.2 0 1 0 -4.4 0zM633.36 383a2.2 2.2 0 1 0 4.4 0a2.2 2.2 0 1 0 -4.4 0zM633.36 390.8a2.2 2.2 0 1 0 4.4 0a2.2 2.2 0 1 0 -4.4 0zM633.36 394.5a2.2 2.2 0 1 0 4.4 0a2.2 2.2 0 1 0 -4.4 0zM633.36 397.9a2.2 2.2 0 1 0 4.4 0a2.2 2.2 0 1 0 -4.4 0zM633.36 401.5a2.2 2.2 0 1 0 4.4 0a2.2 2.2 0 1 0 -4.4 0zM633.36 406.7a2.2 2.2 0 1 0 4.4 0a2.2 2.2 0 1 0 -4.4 0zM633.36 409.75a2.2 2.2 0 1 0 4.4 0a2.2 2.2 0 1 0 -4.4 0zM633.36 412.8a2.2 2.2 0 1 0 4.4 0a2.2 2.2 0 1 0 -4.4 0zM633.36 415.85a2.2 2.2 0 1 0 4.4 0a2.2 2.2 0 1 0 -4.4 0zM633.36 418.9a2.2 2.2 0 1 0 4.4 0a2.2 2.2 0 1 0 -4.4 0z" fill="#000"/>
<text x="635.56" y="370" text-anchor="middle" font-size="11.67">P= 1.27e-06</text>
<text x="39.4" y="470.54" text-anchor="end" font-size="11.67">0.4</text>
<text x="39.4" y="451.1" text-anchor="end" font-size="11.67">0.5</text>
<text x="39.4" y="431.66" text-anchor="end" font-size="11.67">0.6</text>
<text x="39.4" y="412.22" text-anchor="end" font-size="11.67">0.7</text>
<text x="39.4" y="392.78" text-anchor="end" font-size="11.67">0.8</text>
<text x="39.4" y="373.34" text-anchor="end" font-size="11.67">0.9</text>
<text x="39.4" y="353.9" text-anchor="end" font-size="11.67">1.0</text>
<path d="M46.3 465.04H53.5M46.3 445.6H53.5M46.3 426.16H53.5M46.3 406.72H53.5M46.3 387.28H53.5M46.3 367.84H53.5M46.3 348.4H53.5" stroke="#000" stroke-width="1.1" fill="none"/>
<text transform="translate(8.3 408.45) rotate(-90)" text-anchor="middle" font-size="11.67">AUC Sex</text>
<path d="M109.89 540V560.3M109.89 603.5V582.3" stroke="#000" stroke-width="1.05" stroke-dasharray="4.417 4.417" stroke-linecap="round" fill="none"/>
<path d="M90.44 540H129.33M90.44 603.5H129.33" stroke="#000" stroke-width="1.1" stroke-linecap="round" fill="none"/>
<rect x="71" y="560.3" width="77.78" height="22" fill="#FF7F50" stroke="#000" stroke-width="1.1"/>
<path d="M71 576.4H148.78" stroke="#000" stroke-width="3.3" fill="none"/>
<path d="M207.11 539.1V558.6M207.11 590.7V576.3" stroke="#000" stroke-width="1.05" stroke-dasharray="4.417 4.417" stroke-linecap="round" fill="none"/>
<path d="M187.67 539.1H226.56M187.67 590.7H226.56" stroke="#000" stroke-width="1.1" stroke-linecap="round" fill="none"/>
<rect x="168.22" y="558.6" width="77.78" height="17.7" fill="#458B74" stroke="#000" stroke-width="1.1"/>
<path d="M168.22 565.3H246" stroke="#000" stroke-width="3.3" fill="none"/>
<rect x="53.5" y="497.5" width="210" height="121.3" fill="none" stroke="#000" stroke-width="1.15"/>
<path d="M61.28 618.8V497.5M109.89 618.8V497.5M158.5 618.8V497.5M207.11 618.8V497.5M255.72 618.8V497.5" stroke="#CCCCCC" stroke-width="1.1" stroke-dasharray="1.104 3.313" stroke-dashoffset="-0.3" stroke-linecap="round" fill="none"/>
<path d="M53.5 614.4H263.5M53.5 592.4H263.5M53.5 570.4H263.5M53.5 548.4H263.5M53.5 526.4H263.5M53.5 504.4H263.5" stroke="#CCCCCC" stroke-width="1.1" stroke-dasharray="1.104 3.313" stroke-linecap="round" fill="none"/>
<path d="M107.69 540a2.2 2.2 0 1 0 4.4 0a2.2 2.2 0 1 0 -4.4 0zM107.69 603.5a2.2 2.2 0 1 0 4.4 0a2.2 2.2 0 1 0 -4.4 0zM107.69 540a2.2 2.2 0 1 0 4.4 0a2.2 2.2 0 1 0 -4.4 0zM107.69 543a2.2 2.2 0 1 0 4.4 0a2.2 2.2 0 1 0 -4.4 0zM107.69 556.5a2.2 2.2 0 1 0 4.4 0a2.2 2.2 0 1 0 -4.4 0zM107.69 559.25a2.2 2.2 0 1 0 4.4 0a2.2 2.2 0 1 0 -4.4 0zM107.69 562a2.2 2.2 0 1 0 4.4 0a2.2 2.2 0 1 0 -4.4 0zM107.69 564.75a2.2 2.2 0 1 0 4.4 0a2.2 2.2 0 1 0 -4.4 0zM107.69 567.5a2.2 2.2 0 1 0 4.4 0a2.2 2.2 0 1 0 -4.4 0zM107.69 570.25a2.2 2.2 0 1 0 4.4 0a2.2 2.2 0 1 0 -4.4 0zM107.69 573a2.2 2.2 0 1 0 4.4 0a2.2 2.2 0 1 0 -4.4 0zM107.69 575.75a2.2 2.2 0 1 0 4.4 0a2.2 2.2 0 1 0 -4.4 0zM107.69 578.5a2.2 2.2 0 1 0 4.4 0a2.2 2.2 0 1 0 -4.4 0zM107.69 581.25a2.2 2.2 0 1 0 4.4 0a2.2 2.2 0 1 0 -4.4 0zM107.69 584a2.2 2.2 0 1 0 4.4 0a2.2 2.2 0 1 0 -4.4 0zM107.69 586.75a2.2 2.2 0 1 0 4.4 0a2.2 2.2 0 1 0 -4.4 0zM107.69 589.5a2.2 2.2 0 1 0 4.4 0a2.2 2.2 0 1 0 -4.4 0zM107.69 601a2.2 2.2 0 1 0 4.4 0a2.2 2.2 0 1 0 -4.4 0zM107.69 603.5a2.2 2.2 0 1 0 4.4 0a2.2 2.2 0 1 0 -4.4 0z" fill="#000"/>
<path d="M204.91 539.1a2.2 2.2 0 1 0 4.4 0a2.2 2.2 0 1 0 -4.4 0zM204.91 590.7a2.2 2.2 0 1 0 4.4 0a2.2 2.2 0 1 0 -4.4 0zM204.91 531a2.2 2.2 0 1 0 4.4 0a2.2 2.2 0 1 0 -4.4 0zM204.91 539.1a2.2 2.2 0 1 0 4.4 0a2.2 2.2 0 1 0 -4.4 0zM204.91 541a2.2 2.2 0 1 0 4.4 0a2.2 2.2 0 1 0 -4.4 0zM204.91 549.5a2.2 2.2 0 1 0 4.4 0a2.2 2.2 0 1 0 -4.4 0zM204.91 553.5a2.2 2.2 0 1 0 4.4 0a2.2 2.2 0 1 0 -4.4 0zM204.91 559.5a2.2 2.2 0 1 0 4.4 0a2.2 2.2 0 1 0 -4.4 0zM204.91 562.21a2.2 2.2 0 1 0 4.4 0a2.2 2.2 0 1 0 -4.4 0zM204.91 564.93a2.2 2.2 0 1 0 4.4 0a2.2 2.2 0 1 0 -4.4 0zM204.91 567.64a2.2 2.2 0 1 0 4.4 0a2.2 2.2 0 1 0 -4.4 0zM204.91 570.36a2.2 2.2 0 1 0 4.4 0a2.2 2.2 0 1 0 -4.4 0zM204.91 573.07a2.2 2.2 0 1 0 4.4 0a2.2 2.2 0 1 0 -4.4 0zM204.91 575.79a2.2 2.2 0 1 0 4.4 0a2.2 2.2 0 1 0 -4.4 0zM204.91 578.5a2.2 2.2 0 1 0 4.4 0a2.2 2.2 0 1 0 -4.4 0zM204.91 587.5a2.2 2.2 0 1 0 4.4 0a2.2 2.2 0 1 0 -4.4 0zM204.91 589.2a2.2 2.2 0 1 0 4.4 0a2.2 2.2 0 1 0 -4.4 0z" fill="#000"/>
<text x="207.11" y="523.4" text-anchor="middle" font-size="11.67">P= 2.14e-02</text>
<path d="M340.83 559.5V575.4M340.83 602.7V589.5" stroke="#000" stroke-width="1.05" stroke-dasharray="4.417 4.417" stroke-linecap="round" fill="none"/>
<path d="M323.92 559.5H357.74M323.92 602.7H357.74" stroke="#000" stroke-width="1.1" stroke-linecap="round" fill="none"/>
<rect x="307.02" y="575.4" width="67.63" height="14.1" fill="#FF7F50" stroke="#000" stroke-width="1.1"/>
<path d="M307.02 582.6H374.65" stroke="#000" stroke-width="3.3" fill="none"/>
<path d="M425.37 527.6V551.5M425.37 587.2V567" stroke="#000" stroke-width="1.05" stroke-dasharray="4.417 4.417" stroke-linecap="round" fill="none"/>
<path d="M408.46 527.6H442.28M408.46 587.2H442.28" stroke="#000" stroke-width="1.1" stroke-linecap="round" fill="none"/>
<rect x="391.55" y="551.5" width="67.63" height="15.5" fill="#458B74" stroke="#000" stroke-width="1.1"/>
<path d="M391.55 562.6H459.18" stroke="#000" stroke-width="3.3" fill="none"/>
<rect x="291.8" y="497.5" width="182.6" height="121.3" fill="none" stroke="#000" stroke-width="1.15"/>
<path d="M298.56 618.8V497.5M340.83 618.8V497.5M383.1 618.8V497.5M425.37 618.8V497.5M467.64 618.8V497.5" stroke="#CCCCCC" stroke-width="1.1" stroke-dasharray="1.104 3.313" stroke-dashoffset="-0.3" stroke-linecap="round" fill="none"/>
<path d="M291.8 614.4H474.4M291.8 592.4H474.4M291.8 570.4H474.4M291.8 548.4H474.4M291.8 526.4H474.4M291.8 504.4H474.4" stroke="#CCCCCC" stroke-width="1.1" stroke-dasharray="1.104 3.313" stroke-linecap="round" fill="none"/>
<path d="M338.63 559.5a2.2 2.2 0 1 0 4.4 0a2.2 2.2 0 1 0 -4.4 0zM338.63 602.7a2.2 2.2 0 1 0 4.4 0a2.2 2.2 0 1 0 -4.4 0zM338.63 559.5a2.2 2.2 0 1 0 4.4 0a2.2 2.2 0 1 0 -4.4 0zM338.63 564.5a2.2 2.2 0 1 0 4.4 0a2.2 2.2 0 1 0 -4.4 0zM338.63 568.5a2.2 2.2 0 1 0 4.4 0a2.2 2.2 0 1 0 -4.4 0zM338.63 574.5a2.2 2.2 0 1 0 4.4 0a2.2 2.2 0 1 0 -4.4 0zM338.63 577.5a2.2 2.2 0 1 0 4.4 0a2.2 2.2 0 1 0 -4.4 0zM338.63 580.5a2.2 2.2 0 1 0 4.4 0a2.2 2.2 0 1 0 -4.4 0zM338.63 583.5a2.2 2.2 0 1 0 4.4 0a2.2 2.2 0 1 0 -4.4 0zM338.63 586.5a2.2 2.2 0 1 0 4.4 0a2.2 2.2 0 1 0 -4.4 0zM338.63 589.5a2.2 2.2 0 1 0 4.4 0a2.2 2.2 0 1 0 -4.4 0zM338.63 592.5a2.2 2.2 0 1 0 4.4 0a2.2 2.2 0 1 0 -4.4 0zM338.63 599.5a2.2 2.2 0 1 0 4.4 0a2.2 2.2 0 1 0 -4.4 0zM338.63 601.2a2.2 2.2 0 1 0 4.4 0a2.2 2.2 0 1 0 -4.4 0z" fill="#000"/>
<path d="M423.17 527.6a2.2 2.2 0 1 0 4.4 0a2.2 2.2 0 1 0 -4.4 0zM423.17 587.2a2.2 2.2 0 1 0 4.4 0a2.2 2.2 0 1 0 -4.4 0zM423.17 527.6a2.2 2.2 0 1 0 4.4 0a2.2 2.2 0 1 0 -4.4 0zM423.17 541.5a2.2 2.2 0 1 0 4.4 0a2.2 2.2 0 1 0 -4.4 0zM423.17 545.5a2.2 2.2 0 1 0 4.4 0a2.2 2.2 0 1 0 -4.4 0zM423.17 552a2.2 2.2 0 1 0 4.4 0a2.2 2.2 0 1 0 -4.4 0zM423.17 558.5a2.2 2.2 0 1 0 4.4 0a2.2 2.2 0 1 0 -4.4 0zM423.17 561.17a2.2 2.2 0 1 0 4.4 0a2.2 2.2 0 1 0 -4.4 0zM423.17 563.83a2.2 2.2 0 1 0 4.4 0a2.2 2.2 0 1 0 -4.4 0zM423.17 566.5a2.2 2.2 0 1 0 4.4 0a2.2 2.2 0 1 0 -4.4 0zM423.17 572.5a2.2 2.2 0 1 0 4.4 0a2.2 2.2 0 1 0 -4.4 0zM423.17 574.5a2.2 2.2 0 1 0 4.4 0a2.2 2.2 0 1 0 -4.4 0zM423.17 581a2.2 2.2 0 1 0 4.4 0a2.2 2.2 0 1 0 -4.4 0zM423.17 587.2a2.2 2.2 0 1 0 4.4 0a2.2 2.2 0 1 0 -4.4 0z" fill="#000"/>
<text x="425.37" y="520.9" text-anchor="middle" font-size="11.67">P= 1.18e-12</text>
<path d="M551.34 551.5V574.1M551.34 610.4V591.5" stroke="#000" stroke-width="1.05" stroke-dasharray="4.417 4.417" stroke-linecap="round" fill="none"/>
<path d="M534.5 551.5H568.19M534.5 610.4H568.19" stroke="#000" stroke-width="1.1" stroke-linecap="round" fill="none"/>
<rect x="517.66" y="574.1" width="67.37" height="17.4" fill="#FF7F50" stroke="#000" stroke-width="1.1"/>
<path d="M517.66 582.9H585.03" stroke="#000" stroke-width="3.3" fill="none"/>
<path d="M635.56 545.8V562.4M635.56 607.9V581.1" stroke="#000" stroke-width="1.05" stroke-dasharray="4.417 4.417" stroke-linecap="round" fill="none"/>
<path d="M618.71 545.8H652.4M618.71 607.9H652.4" stroke="#000" stroke-width="1.1" stroke-linecap="round" fill="none"/>
<rect x="601.87" y="562.4" width="67.37" height="18.7" fill="#458B74" stroke="#000" stroke-width="1.1"/>
<path d="M601.87 573.4H669.24" stroke="#000" stroke-width="3.3" fill="none"/>
<rect x="502.5" y="497.5" width="181.9" height="121.3" fill="none" stroke="#000" stroke-width="1.15"/>
<path d="M509.24 618.8V497.5M551.34 618.8V497.5M593.45 618.8V497.5M635.56 618.8V497.5M677.66 618.8V497.5" stroke="#CCCCCC" stroke-width="1.1" stroke-dasharray="1.104 3.313" stroke-dashoffset="-0.3" stroke-linecap="round" fill="none"/>
<path d="M502.5 614.4H684.4M502.5 592.4H684.4M502.5 570.4H684.4M502.5 548.4H684.4M502.5 526.4H684.4M502.5 504.4H684.4" stroke="#CCCCCC" stroke-width="1.1" stroke-dasharray="1.104 3.313" stroke-linecap="round" fill="none"/>
<path d="M549.14 551.5a2.2 2.2 0 1 0 4.4 0a2.2 2.2 0 1 0 -4.4 0zM549.14 610.4a2.2 2.2 0 1 0 4.4 0a2.2 2.2 0 1 0 -4.4 0zM549.14 551.5a2.2 2.2 0 1 0 4.4 0a2.2 2.2 0 1 0 -4.4 0zM549.14 561.6a2.2 2.2 0 1 0 4.4 0a2.2 2.2 0 1 0 -4.4 0zM549.14 565.8a2.2 2.2 0 1 0 4.4 0a2.2 2.2 0 1 0 -4.4 0zM549.14 572.5a2.2 2.2 0 1 0 4.4 0a2.2 2.2 0 1 0 -4.4 0zM549.14 575.25a2.2 2.2 0 1 0 4.4 0a2.2 2.2 0 1 0 -4.4 0zM549.14 578a2.2 2.2 0 1 0 4.4 0a2.2 2.2 0 1 0 -4.4 0zM549.14 580.75a2.2 2.2 0 1 0 4.4 0a2.2 2.2 0 1 0 -4.4 0zM549.14 583.5a2.2 2.2 0 1 0 4.4 0a2.2 2.2 0 1 0 -4.4 0zM549.14 586.25a2.2 2.2 0 1 0 4.4 0a2.2 2.2 0 1 0 -4.4 0zM549.14 589a2.2 2.2 0 1 0 4.4 0a2.2 2.2 0 1 0 -4.4 0zM549.14 591.75a2.2 2.2 0 1 0 4.4 0a2.2 2.2 0 1 0 -4.4 0zM549.14 594.5a2.2 2.2 0 1 0 4.4 0a2.2 2.2 0 1 0 -4.4 0zM549.14 601.8a2.2 2.2 0 1 0 4.4 0a2.2 2.2 0 1 0 -4.4 0zM549.14 610.4a2.2 2.2 0 1 0 4.4 0a2.2 2.2 0 1 0 -4.4 0z" fill="#000"/>
<path d="M633.36 545.8a2.2 2.2 0 1 0 4.4 0a2.2 2.2 0 1 0 -4.4 0zM633.36 607.9a2.2 2.2 0 1 0 4.4 0a2.2 2.2 0 1 0 -4.4 0zM633.36 545.8a2.2 2.2 0 1 0 4.4 0a2.2 2.2 0 1 0 -4.4 0zM633.36 552a2.2 2.2 0 1 0 4.4 0a2.2 2.2 0 1 0 -4.4 0zM633.36 554.92a2.2 2.2 0 1 0 4.4 0a2.2 2.2 0 1 0 -4.4 0zM633.36 557.84a2.2 2.2 0 1 0 4.4 0a2.2 2.2 0 1 0 -4.4 0zM633.36 560.76a2.2 2.2 0 1 0 4.4 0a2.2 2.2 0 1 0 -4.4 0zM633.36 563.68a2.2 2.2 0 1 0 4.4 0a2.2 2.2 0 1 0 -4.4 0zM633.36 566.6a2.2 2.2 0 1 0 4.4 0a2.2 2.2 0 1 0 -4.4 0zM633.36 569.52a2.2 2.2 0 1 0 4.4 0a2.2 2.2 0 1 0 -4.4 0zM633.36 572.44a2.2 2.2 0 1 0 4.4 0a2.2 2.2 0 1 0 -4.4 0zM633.36 575.36a2.2 2.2 0 1 0 4.4 0a2.2 2.2 0 1 0 -4.4 0zM633.36 578.28a2.2 2.2 0 1 0 4.4 0a2.2 2.2 0 1 0 -4.4 0zM633.36 581.2a2.2 2.2 0 1 0 4.4 0a2.2 2.2 0 1 0 -4.4 0zM633.36 587a2.2 2.2 0 1 0 4.4 0a2.2 2.2 0 1 0 -4.4 0zM633.36 588.5a2.2 2.2 0 1 0 4.4 0a2.2 2.2 0 1 0 -4.4 0zM633.36 594.8a2.2 2.2 0 1 0 4.4 0a2.2 2.2 0 1 0 -4.4 0zM633.36 596.2a2.2 2.2 0 1 0 4.4 0a2.2 2.2 0 1 0 -4.4 0zM633.36 607.9a2.2 2.2 0 1 0 4.4 0a2.2 2.2 0 1 0 -4.4 0z" fill="#000"/>
<text x="635.56" y="538.7" text-anchor="middle" font-size="11.67">P= 7.54e-03</text>
<text x="39.4" y="619.9" text-anchor="end" font-size="11.67">0.4</text>
<text x="39.4" y="597.9" text-anchor="end" font-size="11.67">0.5</text>
<text x="39.4" y="575.9" text-anchor="end" font-size="11.67">0.6</text>
<text x="39.4" y="553.9" text-anchor="end" font-size="11.67">0.7</text>
<text x="39.4" y="531.9" text-anchor="end" font-size="11.67">0.8</text>
<text x="39.4" y="509.9" text-anchor="end" font-size="11.67">0.9</text>
<path d="M46.3 614.4H53.5M46.3 592.4H53.5M46.3 570.4H53.5M46.3 548.4H53.5M46.3 526.4H53.5M46.3 504.4H53.5" stroke="#000" stroke-width="1.1" fill="none"/>
<text transform="translate(8.3 558.15) rotate(-90)" text-anchor="middle" font-size="11.67">AUC Smoking</text>
<text x="158.5" y="10.1" text-anchor="middle" font-size="14" font-weight="bold" style="stroke-width:0.05px">Species</text>
<text x="383.1" y="10.1" text-anchor="middle" font-size="14" font-weight="bold" style="stroke-width:0.05px">Genus</text>
<text x="593.45" y="10.1" text-anchor="middle" font-size="14" font-weight="bold" style="stroke-width:0.05px">Family</text>
<rect x="218" y="306.5" width="6" height="6" fill="#FF0000"/>
<text x="233.3" y="317" font-size="14">r</text><text x="238.3" y="309.2" font-size="10">2</text><text x="247" y="317" font-size="14">linear model</text>
<rect x="333.2" y="306.4" width="6" height="6" fill="#6495ED"/>
<text x="348.3" y="317" font-size="14">r</text><text x="353.3" y="309.2" font-size="10">2</text><text x="362" y="317" font-size="14">MANOCCA</text>
<rect x="218.2" y="634" width="6" height="6" fill="#FF7F50"/>
<text x="234" y="642.6" font-size="14">AUC linear model</text>
<rect x="353.2" y="634" width="6" height="6" fill="#458B74"/>
<text x="369" y="642.6" font-size="14">AUC MANOCCA</text>
</svg>
</body></html>
